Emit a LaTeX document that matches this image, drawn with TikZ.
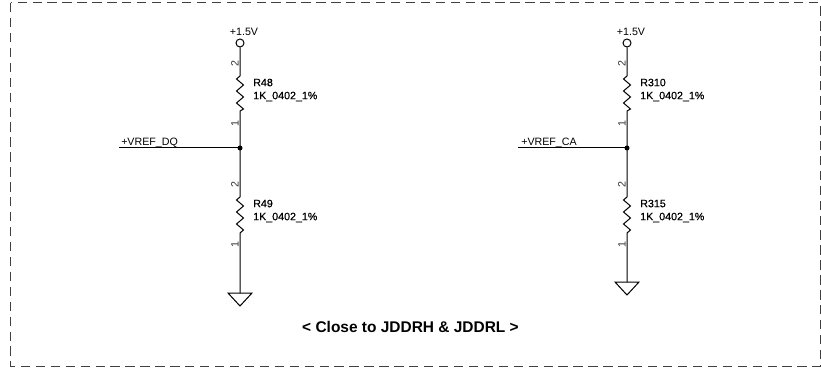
\documentclass[tikz,border=0pt]{standalone}
\usepackage{fontspec}
\setmainfont{Liberation Sans}
\newfontfamily\partfont[FakeBold=0.5]{Liberation Sans}
\usetikzlibrary{positioning}

\begin{document}
\begin{tikzpicture}[
    x=0.75pt, y=-0.75pt,
    node distance = 0mm,
every node/.style = {inner sep=0pt,font=\fontsize{8}{9.75}\selectfont},
wire/.style = {draw=black,line width=0.75pt},
frame/.style = {draw=black!75,line width=0.75pt,dash pattern=on 7pt off 4.2pt},
pinnum/.style = {rotate=90,text=black!80,font=\fontsize{8}{9}\selectfont},
partlabel/.style = {align=left,anchor=north west,font=\fontsize{8}{9.75}\partfont}]
\useasboundingbox (0,0) rectangle (821,374);

\draw[frame] (10.5,3) rectangle (820.5,366);

% left divider
\coordinate                (j1)  at (240,148);
\node[circle,draw,line width=0.75pt,minimum size=6pt,at={(240,43)}] (p1) {};
\node[above=2pt of p1,xshift=3pt]     (v1)  {+1.5V};
\coordinate                (r48t) at (240,76);
\coordinate                (r48b) at (240,111);
\coordinate                (r49t) at (240,197);
\coordinate                (r49b) at (240,233);
\coordinate                (g1)  at (240,293);
\coordinate                (n1)  at (119,148);
\node[anchor=base west]    (l1)  at (121,146) {+VREF\_DQ};

\path[wire] (p1) -- (r48t) -- ++(-3.5,3) -- ++(7,6) -- ++(-7,6) -- ++(7,6) -- ++(-7,6) -- ++(7,6) -- (r48b) -- (j1);
\path[wire] (j1) -- (r49t) -- ++(-3.5,3) -- ++(7,6) -- ++(-7,6) -- ++(7,6) -- ++(-7,6) -- ++(7,6) -- (r49b) -- (g1);
\path[wire] (n1) -- (j1);
\fill (j1) circle (2.5);
\path[wire] (g1) -- ++(-12,0) -- ++(12,13) -- ++(12,-13) -- cycle;

\node[pinnum] (a2) at (235,64)  {2};
\node[pinnum] (a1) at (235,124) {1};
\node[pinnum] (b2) at (235,185) {2};
\node[pinnum] (b1) at (235,245) {1};
\node[partlabel] (r48) at (253,78.5)  {R48\\1K\_0402\_1\%};
\node[partlabel] (r49) at (253,199.5) {R49\\1K\_0402\_1\%};

% right divider
\coordinate                (j2)  at (627,148);
\node[circle,draw,line width=0.75pt,minimum size=6pt,at={(627,43)}] (p2) {};
\node[above=2pt of p2,xshift=3pt]     (v2)  {+1.5V};
\coordinate                (r310t) at (627,76);
\coordinate                (r310b) at (627,111);
\coordinate                (r315t) at (627,197);
\coordinate                (r315b) at (627,233);
\coordinate                (g2)  at (627,282);
\coordinate                (n2)  at (518,148);
\node[anchor=base west]    (l2)  at (521,146) {+VREF\_CA};

\path[wire] (p2) -- (r310t) -- ++(-3.5,3) -- ++(7,6) -- ++(-7,6) -- ++(7,6) -- ++(-7,6) -- ++(7,6) -- (r310b) -- (j2);
\path[wire] (j2) -- (r315t) -- ++(-3.5,3) -- ++(7,6) -- ++(-7,6) -- ++(7,6) -- ++(-7,6) -- ++(7,6) -- (r315b) -- (g2);
\path[wire] (n2) -- (j2);
\fill (j2) circle (2.5);
\path[wire] (g2) -- ++(-12,0) -- ++(12,13) -- ++(12,-13) -- cycle;

\node[pinnum] (c2) at (622,64)  {2};
\node[pinnum] (c1) at (622,124) {1};
\node[pinnum] (d2) at (622,185) {2};
\node[pinnum] (d1) at (622,245) {1};
\node[partlabel] (r310) at (640,78.5)  {R310\\1K\_0402\_1\%};
\node[partlabel] (r315) at (640,199.5) {R315\\1K\_0402\_1\%};

\node[font=\fontsize{11.6}{13}\selectfont\bfseries] (note) at (410.5,327) {< Close to JDDRH \& JDDRL >};
\end{tikzpicture}
\end{document}
